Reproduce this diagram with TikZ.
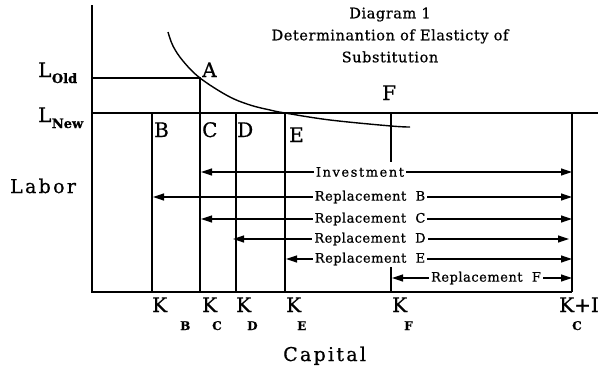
\documentclass[tikz,border=0pt]{standalone}
\usepackage{fontspec}
\setmainfont{DejaVu Serif}[FakeBold=0.7]
\newfontfamily\spacedfont[LetterSpace=4,FakeBold=0.7]{DejaVu Serif}
\newfontfamily\widefont[LetterSpace=12,FakeBold=0.7]{DejaVu Serif}
\usetikzlibrary{arrows.meta}
\begin{document}
\begin{tikzpicture}[x=1pt,y=-1pt,
  axisline/.style={line width=1.8pt},
  gridline/.style={line width=1.4pt},
  dbl/.style={line width=1.2pt,{Triangle[length=11pt,width=7pt]}-{Triangle[length=11pt,width=7pt]}},
  rlabel/.style={font=\spacedfont\fontsize{13}{15}\selectfont,fill=white,inner xsep=2pt,inner ysep=1pt},
  ilabel/.style={font=\widefont\fontsize{13}{15}\selectfont,fill=white,inner xsep=2pt,inner ysep=1pt},
  big/.style={font=\fontsize{20}{22}\selectfont,inner sep=0pt},
  subl/.style={font=\bfseries\fontsize{13}{15}\selectfont,inner sep=0pt},
  subk/.style={font=\bfseries\fontsize{12}{14}\selectfont,inner sep=0pt},
  axlabel/.style={font=\widefont\fontsize{19}{21}\selectfont,inner sep=0pt},
  titletext/.style={font=\spacedfont\fontsize{14.5}{22}\selectfont,align=center,inner sep=0pt}]
\useasboundingbox (0,0) rectangle (606,372);

% key points
\coordinate (O) at (92,292);
\coordinate (Ytop) at (92,5);
\coordinate (Xend) at (572,292);
\coordinate (Lold) at (92,78);
\coordinate (Apt) at (200,78);
\coordinate (Lnew) at (92,113);
\coordinate (LnewEnd) at (598,113);
\coordinate (Bt) at (152,113); \coordinate (Bb) at (152,292);
\coordinate (Cb) at (200,292);
\coordinate (Dt) at (236,113); \coordinate (Db) at (236,292);
\coordinate (Et) at (285,113); \coordinate (Eb) at (285,292);
\coordinate (Ft) at (391,113); \coordinate (Fm) at (391,162);
\coordinate (Fl) at (391,267); \coordinate (Fb) at (391,292);
\coordinate (Rt) at (572,113); \coordinate (Rb) at (572,292);

% axes
\draw[axisline] (Ytop) -- (O) -- (Xend);
\draw[gridline] (Lold) -- (Apt) -- (Cb);
\draw[gridline] (Lnew) -- (LnewEnd);
\draw[gridline] (Bt) -- (Bb);
\draw[gridline] (Dt) -- (Db);
\draw[gridline] (Et) -- (Eb);
\draw[gridline] (Ft) -- (Fm);
\draw[gridline] (Fl) -- (Fb);
\draw[gridline] (Rt) -- (Rb);

% isoquant
\draw[gridline] plot[smooth,tension=0.6] coordinates {(168,32) (173,46) (183,61) (200,78) (228,96) (250,105) (270,110) (285,113) (330,120) (391,126) (410,127)};

% arrows
\coordinate (iL) at (201,172); \coordinate (iR) at (572,172);
\coordinate (bL) at (153,197); \coordinate (bR) at (572,197);
\coordinate (cL) at (201,219); \coordinate (cR) at (572,219);
\coordinate (dL) at (233,239); \coordinate (dR) at (569,239);
\coordinate (eL) at (286,259); \coordinate (eR) at (572,259);
\coordinate (fL) at (392,278); \coordinate (fR) at (572,278);
\draw[dbl] (iL) -- (iR);
\draw[dbl] (bL) -- (bR);
\draw[dbl] (cL) -- (cR);
\draw[dbl] (dL) -- (dR);
\draw[dbl] (eL) -- (eR);
\draw[dbl] (fL) -- (fR);
\node[ilabel] (tinv) at (360,172) {Investment};
\node[rlabel] (tb) at (370,197) {Replacement\ \ B};
\node[rlabel] (tc) at (370,219) {Replacement\ \ C};
\node[rlabel] (td) at (370,239) {Replacement\ \ D};
\node[rlabel] (te) at (370,259) {Replacement\ \ E};
\node[rlabel] (tf) at (486,278) {Replacement\ \ F};

% point labels
\node[big,anchor=base west] (lA) at (202,77) {A};
\node[big,anchor=base west] (lB) at (154,137) {B};
\node[big,anchor=base west] (lC) at (202,137) {C};
\node[big,anchor=base west] (lD) at (237,137) {D};
\node[big,anchor=base west] (lE) at (289,142) {E};
\node[big,anchor=base west] (lF) at (382,100) {F};

% L labels
\node[big,anchor=base west] (lo) at (38,77) {L};
\node[subl,anchor=base west] (los) at ([yshift=-6pt]lo.base east) {Old};
\node[big,anchor=base west] (ln) at (38,122) {L};
\node[subl,anchor=base west] (lns) at ([yshift=-6pt]ln.base east) {New};

% K labels
\node[big,anchor=base west] (kb) at (152,312) {K};
\node[subk,anchor=base west] (kbs) at (180,330) {B};
\node[big,anchor=base west] (kc) at (202,312) {K};
\node[subk,anchor=base west] (kcs) at (212,330) {C};
\node[big,anchor=base west] (kd) at (236,312) {K};
\node[subk,anchor=base west] (kds) at (247,330) {D};
\node[big,anchor=base west] (ke) at (286,312) {K};
\node[subk,anchor=base west] (kes) at (297,330) {E};
\node[big,anchor=base west] (kf) at (392,312) {K};
\node[subk,anchor=base west] (kfs) at (404,330) {F};
\node[big,anchor=base west] (kci) at (559,312) {K+I};
\node[subk,anchor=base west] (kcis) at (572,330) {C};

% axis labels
\node[axlabel,anchor=base west] (labor) at (10,193) {Labor};
\node[axlabel,anchor=base west] (capital) at (283,361) {Capital};

% title
\node[titletext] (title) at (390,35) {Diagram 1\\Determinantion of Elasticty of\\Substitution};
\end{tikzpicture}
\end{document}
